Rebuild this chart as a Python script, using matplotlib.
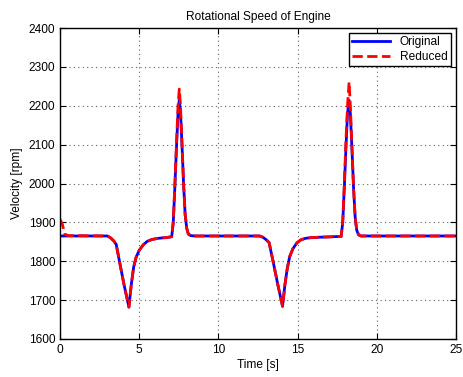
import matplotlib
matplotlib.use('Agg')
import matplotlib.pyplot as plt

plt.rcParams['font.family'] = ['Liberation Sans', 'DejaVu Sans']
plt.rcParams['font.size'] = 8.6

# Time samples [s]
time = [0.0, 0.15, 0.3, 0.5, 3.0, 3.2, 3.4, 3.55, 3.8, 4.05, 4.35, 4.5, 4.65,
        4.8, 5.0, 5.25, 5.5, 5.8, 6.2, 6.7, 7.05, 7.15, 7.25, 7.35, 7.45, 7.53,
        7.6, 7.7, 7.8, 7.9, 8.0, 8.1, 8.25, 8.5, 12.6, 12.8, 13.0, 13.2, 13.45,
        13.75, 14.05, 14.2, 14.35, 14.5, 14.7, 14.95, 15.2, 15.5, 15.9, 16.5,
        17.2, 17.75, 17.85, 17.95, 18.05, 18.15, 18.25, 18.33, 18.43, 18.53,
        18.63, 18.73, 18.85, 19.0, 25.0]

# Original model speed [rpm]
original = [1865, 1865, 1865, 1865, 1865, 1860, 1852, 1843, 1790, 1738, 1682,
            1740, 1785, 1810, 1828, 1842, 1851, 1856, 1859, 1861, 1863, 1900,
            1990, 2090, 2180, 2215, 2190, 2100, 2000, 1920, 1885, 1870, 1866,
            1865, 1865, 1862, 1856, 1848, 1800, 1740, 1684, 1740, 1782, 1812,
            1832, 1847, 1855, 1859, 1861, 1862, 1863, 1864, 1900, 1990, 2090,
            2180, 2214, 2180, 2090, 1990, 1915, 1880, 1868, 1865, 1865]

# Reduced model speed [rpm]
reduced = [1908, 1895, 1870, 1866, 1865, 1860, 1852, 1843, 1790, 1738, 1682,
           1740, 1785, 1810, 1828, 1842, 1851, 1856, 1859, 1861, 1863, 1900,
           1995, 2100, 2200, 2243, 2205, 2105, 2000, 1920, 1885, 1870, 1866,
           1865, 1865, 1862, 1856, 1848, 1800, 1740, 1684, 1740, 1782, 1812,
           1832, 1847, 1855, 1859, 1861, 1862, 1863, 1864, 1905, 2000, 2110,
           2200, 2261, 2200, 2095, 1990, 1915, 1880, 1868, 1865, 1865]

fig = plt.figure(figsize=(4.63, 3.77), dpi=100)
ax = fig.add_axes([0.1296, 0.1008, 0.8553, 0.8249])

ax.plot(time, original, color='#0000ff', lw=2, label='Original')
ax.plot(time, reduced, color='#ff0000', lw=2, ls='--', label='Reduced')

ax.set_xlim(0, 25)
ax.set_ylim(1600, 2400)
ax.set_xticks(range(0, 26, 5))
ax.set_yticks(range(1600, 2401, 100))
ax.grid(True, color='#606060', lw=0.8, dashes=(1, 3))
ax.tick_params(direction='in', top=True, right=True, length=4)
for s in ax.spines.values():
    s.set_linewidth(1)

ax.set_title('Rotational Speed of Engine', fontsize=8.6, pad=6)
ax.set_xlabel('Time [s]', fontsize=8.6, labelpad=2)
ax.set_ylabel('Velocity [rpm]', fontsize=8.6)

leg = ax.legend(loc='upper right', fancybox=False, edgecolor='black',
                framealpha=1, handlelength=3.2, borderaxespad=0.4,
                borderpad=0.3, labelspacing=0.2, fontsize=8.6)
leg.get_frame().set_linewidth(1)

fig.savefig('out.png', dpi=100)
